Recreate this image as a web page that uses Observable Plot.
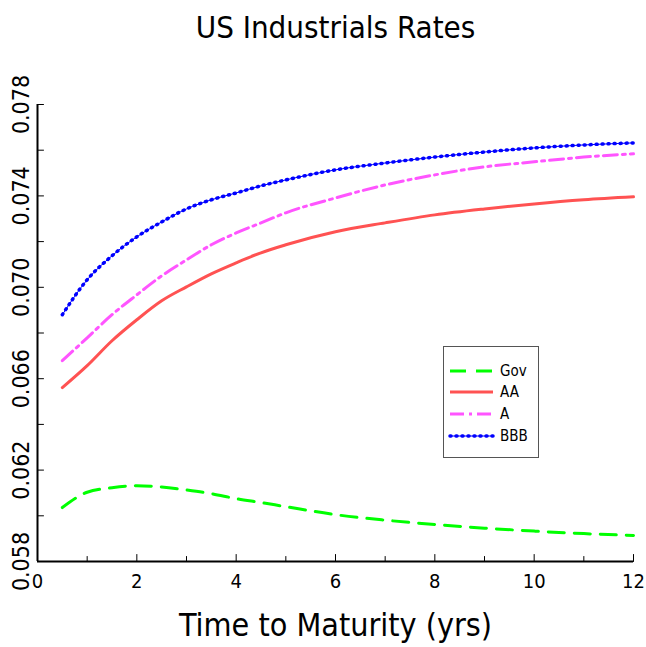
<!DOCTYPE html>
<html>
<head>
<meta charset="utf-8">
<script src="https://cdn.jsdelivr.net/npm/d3@7"></script>
<script src="https://cdn.jsdelivr.net/npm/@observablehq/plot@0.6"></script>
<style>
  html, body { margin: 0; padding: 0; background: #fff; }
  #wrap { position: relative; width: 646px; height: 647px; }
  #legend { position: absolute; left: 443px; top: 346px; }
  svg text { font-family: "Liberation Sans Narrow", "DejaVu Sans Condensed", "Liberation Sans", sans-serif; }
</style>
</head>
<body>
<div id="wrap"></div>
<script>
// ---- data ----
const years = [0.5, 1, 1.5, 2, 2.5, 3, 3.5, 4, 4.5, 5, 6, 7, 8, 9, 10, 11, 12];
const gov = [0.06036, 0.06103, 0.06123, 0.06132, 0.06126, 0.06113, 0.06097, 0.06075, 0.06058, 0.06040, 0.06005, 0.05981, 0.05962, 0.05946, 0.05933, 0.05922, 0.05914];
const aa  = [0.06561, 0.06657, 0.06766, 0.06858, 0.06941, 0.07002, 0.07059, 0.07107, 0.07151, 0.07186, 0.07243, 0.07282, 0.07317, 0.07343, 0.07365, 0.07383, 0.07396];
const a   = [0.06679, 0.06779, 0.06880, 0.06967, 0.07050, 0.07120, 0.07186, 0.07238, 0.07282, 0.07326, 0.07391, 0.07448, 0.07492, 0.07527, 0.07549, 0.07570, 0.07584];
const bbb = [0.06880, 0.07033, 0.07138, 0.07221, 0.07286, 0.07343, 0.07383, 0.07413, 0.07444, 0.07470, 0.07514, 0.07544, 0.07570, 0.07592, 0.07610, 0.07623, 0.07632];
const seriesNames = ["Gov", "AA", "A", "BBB"];
const xMajorTicks = [0, 2, 4, 6, 8, 10, 12];
const xMinorTicks = [1, 3, 5, 7, 9, 11];
const yMajorTicks = [0.058, 0.062, 0.066, 0.070, 0.074, 0.078];
const yMinorTicks = [0.060, 0.064, 0.068, 0.072, 0.076];
const title = "US Industrials Rates";
const xTitle = "Time to Maturity (yrs)";

// ---- styles ----
const styles = {
  Gov: {stroke: "#00ff00", strokeWidth: 3, strokeDasharray: "16,10"},
  AA:  {stroke: "#ff5252", strokeWidth: 3},
  A:   {stroke: "#ff55ff", strokeWidth: 3, strokeDasharray: "14,5,3,5"},
  BBB: {stroke: "#0000ff", strokeWidth: 3.5, strokeDasharray: "1,5", strokeLinecap: "round"}
};

const rows = (vals) => years.map((x, i) => ({x, y: vals[i]}));
const data = {Gov: rows(gov), AA: rows(aa), A: rows(a), BBB: rows(bbb)};

const tickShape = {draw(ctx, l) { ctx.moveTo(0, 0); ctx.lineTo(0, -l); }};

const chart = Plot.plot({
  width: 646,
  height: 647,
  marginLeft: 37,
  marginRight: 13,
  marginTop: 104,
  marginBottom: 86,
  x: {domain: [0, 12], axis: null},
  y: {domain: [0.058, 0.078], axis: null},
  marks: [
    // axis lines
    Plot.ruleX([0], {y1: 0.058, y2: 0.078, stroke: "#000", strokeWidth: 2}),
    Plot.ruleY([0.058], {x1: 0, x2: 12, stroke: "#000", strokeWidth: 2}),
    // ticks (inward)
    Plot.vector(xMajorTicks, {x: d => d, y: () => 0.058, length: 7, anchor: "start", shape: tickShape, stroke: "#000", strokeWidth: 1}),
    Plot.vector(xMinorTicks, {x: d => d, y: () => 0.058, length: 5, anchor: "start", shape: tickShape, stroke: "#000", strokeWidth: 1}),
    Plot.vector(yMajorTicks.concat(yMinorTicks), {x: () => 0, y: d => d, length: 6, rotate: 90, anchor: "start", shape: tickShape, stroke: "#000", strokeWidth: 1}),
    // tick labels
    Plot.text(xMajorTicks, {x: d => d, frameAnchor: "bottom", text: d => String(d), dy: 12, lineAnchor: "top", fontSize: 20, fill: "#000"}),
    Plot.text(yMajorTicks, {y: d => d, frameAnchor: "left", text: d => d.toFixed(3), rotate: -90, dx: -16, textAnchor: "middle", lineAnchor: "middle", fontSize: 23, fill: "#000", letterSpacing: 2}),
    // series
    Plot.line(data.Gov, {x: "x", y: "y", curve: "monotone-x", ...styles.Gov}),
    Plot.line(data.AA, {x: "x", y: "y", curve: "monotone-x", ...styles.AA}),
    Plot.line(data.A, {x: "x", y: "y", curve: "monotone-x", ...styles.A}),
    Plot.line(data.BBB, {x: "x", y: "y", curve: "monotone-x", stroke: "#0000ff", strokeWidth: 1}),
    Plot.line(data.BBB, {x: "x", y: "y", curve: "monotone-x", ...styles.BBB}),
    // titles
    Plot.text([title], {frameAnchor: "top", dy: -67, lineAnchor: "bottom", fontSize: 31, fill: "#000"}),
    Plot.text([xTitle], {frameAnchor: "bottom", dy: 74, lineAnchor: "bottom", fontSize: 32, fill: "#000"})
  ]
});
document.getElementById("wrap").appendChild(chart);

// ---- legend box ----
const lw = 95, lh = 111;
const leg = d3.create("svg").attr("id", "legend").attr("width", lw + 1).attr("height", lh + 1);
leg.append("rect").attr("x", 0.5).attr("y", 0.5).attr("width", lw).attr("height", lh)
  .attr("fill", "#fff").attr("stroke", "#555").attr("stroke-width", 1);
const rowY = [25, 46, 68, 90];
seriesNames.forEach((name, i) => {
  const s = styles[name];
  if (name === "BBB") {
    leg.append("line").attr("x1", 7).attr("x2", 50).attr("y1", rowY[i]).attr("y2", rowY[i])
      .attr("stroke", "#0000ff").attr("stroke-width", 1);
  }
  leg.append("line").attr("x1", 7).attr("x2", 50).attr("y1", rowY[i]).attr("y2", rowY[i])
    .attr("stroke", s.stroke).attr("stroke-width", s.strokeWidth)
    .attr("stroke-dasharray", s.strokeDasharray || null)
    .attr("stroke-linecap", s.strokeLinecap || null);
  leg.append("text").attr("x", 57).attr("y", rowY[i] + 5).attr("font-size", 15).attr("fill", "#000").text(name);
});
document.getElementById("wrap").appendChild(leg.node());
</script>
</body>
</html>
